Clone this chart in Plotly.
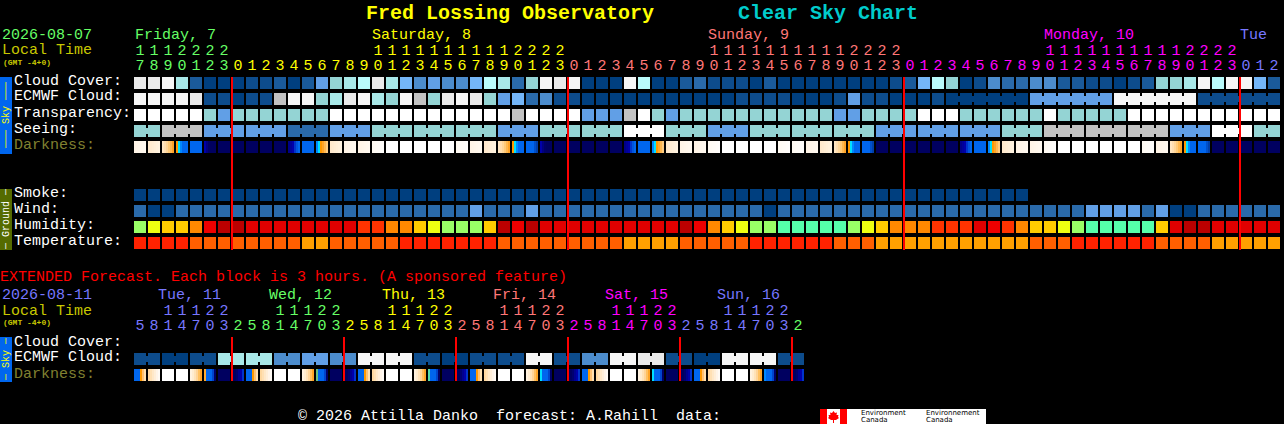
import plotly.graph_objects as go

# ---------- data ----------
HOURS_MAIN = [17,18,19,20,21,22,23,
              0,1,2,3,4,5,6,7,8,9,10,11,12,13,14,15,16,17,18,19,20,21,22,23,
              0,1,2,3,4,5,6,7,8,9,10,11,12,13,14,15,16,17,18,19,20,21,22,23,
              0,1,2,3,4,5,6,7,8,9,10,11,12,13,14,15,16,17,18,19,20,21,22,23,
              0,1,2]
HOURS_EXT = [5,8,11,14,17,20,23,
             2,5,8,11,14,17,20,23,
             2,5,8,11,14,17,20,23,
             2,5,8,11,14,17,20,23,
             2,5,8,11,14,17,20,23,
             2,5,8,11,14,17,20,23,
             2]
DAY_COUNTS_MAIN = [7, 24, 24, 24, 3]
DAY_COLORS_MAIN = ["#66ff66", "#ffff00", "#ff7777", "#ff00ff", "#7777ff"]
DAY_COUNTS_EXT = [7, 8, 8, 8, 8, 8, 1]
DAY_COLORS_EXT = ["#7777ff", "#66ff66", "#ffff00", "#ff7777", "#ff00ff", "#7777ff", "#66ff66"]
DAYS_MAIN = [("Friday, 7", 135, "#66ff66"), ("Saturday, 8", 372, "#ffff00"),
             ("Sunday, 9", 708, "#ff7777"), ("Monday, 10", 1044, "#ff00ff"), ("Tue", 1240, "#7777ff")]
DAYS_EXT = [("Tue, 11", 158, "#7777ff"), ("Wed, 12", 269, "#66ff66"), ("Thu, 13", 382, "#ffff00"),
            ("Fri, 14", 493, "#ff7777"), ("Sat, 15", 605, "#ff00ff"), ("Sun, 16", 717, "#7777ff")]

SKY_COLORS = ["#003f7f", "#0d4c8c", "#1a5a9a", "#2a6aaa", "#4c8ccc", "#619fe6", "#74b6f8",
              "#94d4d4", "#a8e8e8", "#b9fbfb", "#eaeaea", "#f6f6f6", "#c2c2c2", "#ffffff"]

cloud_cover = [10,10,11,8,2,0,0,0,1,1,2,0,2,5,7,8,9,10,8,6,4,
               5,4,4,6,9,8,3,7,11,10,11,0,0,0,11,9,0,0,2,3,1,1,1,0,2,0,0,0,0,0,0,
               0,0,1,2,6,9,7,0,1,4,3,3,4,4,2,2,1,1,0,1,2,7,7,8,11,9,11,11,6,2]
ecmwf_cloud = [11,11,11,11,10,1,1,0,1,1,12,11,11,7,8,10,11,8,7,11,12,
               7,10,11,10,7,5,6,3,4,1,1,0,0,0,0,0,0,0,0,0,0,0,1,1,1,1,0,0,0,1,5,
               1,1,0,0,0,1,0,0,0,0,0,0,5,5,5,5,5,5,11,11,11,11,11,11,1,1,1,1,1,1]
ecmwf_joined_blocks = [(58, 6), (64, 6), (70, 6), (76, 6)]
transparency = [13,13,13,13,13,7,5,7,7,7,7,7,7,7,13,13,13,13,13,13,13,
                13,13,13,13,13,13,12,13,13,13,13,5,5,5,12,13,7,5,7,7,7,7,7,7,7,7,7,7,7,5,5,
                7,7,7,7,13,13,13,7,7,7,7,7,7,13,7,7,7,7,7,13,13,13,13,13,13,13,13,13,13,13]
seeing_blocks = [(2,7),(3,12),(3,5),(3,5),(3,3),(3,5),(3,7),(3,7),(3,7),(3,5),(3,7),(3,7),
                 (3,13),(3,7),(3,5),(3,7),(3,7),(3,7),(3,5),(3,5),(3,5),(3,7),(3,12),(3,12),
                 (3,12),(3,5),(3,13),(2,7)]

DARK_KINDS = {
    "W":  ["#ffffff"] * 6,
    "F0": ["#fffaf2", "#fffbf5", "#fffcf7", "#fffcf8", "#fffdfa", "#fffefc"],
    "F1": ["#fff4e6", "#fff5e8", "#fff6ea", "#fff7ec", "#fff8ee", "#fff9f0"],
    "F2": ["#ffe9cc", "#ffebd0", "#ffedd4", "#ffefd8", "#fff1dc", "#fff3e0"],
    "G":  ["#ffe6c2", "#ffdeb0", "#ffd698", "#ffca78", "#ffb850", "#ffa428"],
    "SS": ["#ff9900", "#00e0ff", "#0088ff", "#0066ee", "#0066ee", "#0066ee"],
    "B":  ["#0066ee"] * 6,
    "BD": ["#0066ee", "#0066ee", "#0066ee", "#0066ee", "#0050cc", "#0040aa"],
    "DB": ["#0000aa", "#000080", "#000066", "#000060", "#000060", "#000060"],
    "N":  ["#000060"] * 6,
    "RB": ["#000088", "#000099", "#0000aa", "#0033cc", "#0055dd", "#0066ee"],
    "SR": ["#0088ff", "#00e0ff", "#ff9900", "#ffa428", "#ffb850", "#ffcc80"],
    "XD": ["#0066ee", "#0066ee", "#0066ee", "#ff9900", "#ffc070", "#ffe0b0"],
    "XC": ["#ffd8a0", "#ffe0b4", "#ffe8c8", "#ffeed8", "#fff4e8", "#fffaf4"],
    "XG": ["#fff2e0", "#ffecd0", "#ffe2b8", "#ffd498", "#ffc060", "#ffa428"],
    "XE0": ["#ffaa30", "#0066ee", "#0066ee", "#0066ee", "#0044cc", "#000066"],
    "XE1": ["#66c080", "#0066ee", "#0066ee", "#0066ee", "#0044cc", "#000066"],
    "XE2": ["#55ddaa", "#0066ee", "#0066ee", "#0066ee", "#0044cc", "#000066"],
    "XE3": ["#00e0ff", "#0066ee", "#0066ee", "#0066ee", "#0044cc", "#000066"],
    "XE4": ["#0088ff", "#0066ee", "#0066ee", "#0066ee", "#0044cc", "#000066"],
    "XR": ["#000060", "#000060", "#000070", "#000090", "#0000aa", "#0033cc"],
}
darkness = ["F1","F2","G","SS","B","DB","N","N","N","N","N","RB","B","SR","F2","F1","F1","F0","W","W","W",
            "W","W","F0","F1","F2","G","SS","BD","DB","N","N","N","N","N","RB","B","SR","F2","F1","F1","F0",
            "W","W","W","W","F0","F0","F1","F2","G","SS",
            "BD","N","N","N","N","N","N","RB","B","SR","F2","F1","F1","F0","W","W","W","W","W","W",
            "F0","F1","G","SS","BD","N","N","N","N","N"]

smoke = [0] * 64
wind = [3,0,0,3,3,3,3,3,3,3,3,3,3,3,3,3,3,3,3,3,3,
        3,3,3,5,3,3,3,5,3,3,3,3,3,3,3,3,3,3,3,3,3,3,3,3,0,3,3,3,3,3,3,
        3,3,3,3,3,3,3,3,3,3,3,3,3,3,3,3,5,5,5,5,3,5,0,0,3,3,3,3,3,3]

HUM = {"g": "#99ff66", "l": "#eeff11", "y": "#ffcc00", "o": "#ff8800", "a": "#ff3300",
       "R": "#ee0000", "r": "#e00000", "D": "#bb0000", "t": "#55ffaa"}
humidity = list("glyyoRDDrrrrrrrraaooy") + list("lgggyDRDrrrrrrrrrrDRoylggtttttg") + list("lyoooaaarRaoyylgtttttyrDDrrrrr")

TEMP = {"R": "#ff2200", "M": "#ff5f00", "O": "#ffa000"}
temperature = list("RRRRMMMMMMMMOOMMMMMRR") + list("RRRRRMMMMMMMMMOOOOMMMMMRRRRRRMM") + list("MOOOOOOOOOOOMMMRRRRRRMMMMOOOOO")

ext_ecmwf_blocks = [1,0,1,8,8,4,5,4,11,11,1,0,1,1,11,1,4,11,10,1,0,11,11,1]
ext_darkness = ["XD","XC","W","W","XG","XE0","N","XR",
                "XD","XC","W","W","XG","XE1","N","XR",
                "XD","XC","W","W","XG","XE2","N","XR",
                "XD","XC","W","W","XG","XE3","N","XR",
                "XD","XC","W","W","XG","XE3","N","XR",
                "XD","XC","W","W","XG","XE4","N","XR"]

MIDNIGHT_MAIN = [7, 31, 55, 79]
MIDNIGHT_EXT = [7, 15, 23, 31, 39, 47]

LABELS_MAIN = ["Cloud Cover:", "ECMWF Cloud:", "Transparency:", "Seeing:", "Darkness:"]
LABELS_GROUND = ["Smoke:", "Wind:", "Humidity:", "Temperature:"]
LABELS_EXT = ["Cloud Cover:", "ECMWF Cloud:", "Darkness:"]

# ---------- layout constants ----------
W, H = 1284, 424
PITCH = 14
FIRST_CENTRE = 140
CELL_W = 12 / PITCH
CELL_H = 12
NECK_H = 6
ROW_MAIN = [83, 99, 115, 131, 147]
ROW_GROUND = [195, 211, 227, 243]
ROW_EXT = [343, 359, 375]
BODY = "Liberation Mono"
PALE = "#c8c800"
RED = "#ff0000"


def col_of_px(px):
    return (px - FIRST_CENTRE) / PITCH


fig = go.Figure()


def bar(x, height, base, width, color):
    fig.add_trace(go.Bar(x=x, y=height, base=base, width=width, marker=dict(color=color, line=dict(width=0)),
                         hoverinfo="skip", showlegend=False))


def cell_row(values, row, colors=SKY_COLORS):
    n = len(values)
    bar(list(range(n)), [CELL_H] * n, [row - CELL_H / 2] * n, [CELL_W] * n, [colors[v] for v in values])


def joined(blocks, row):
    """blocks: (first column, length, colour index)"""
    xs, cs = [], []
    for first, length, c in blocks:
        for i in range(first, first + length - 1):
            xs.append(i + 0.5)
            cs.append(SKY_COLORS[c])
    bar(xs, [NECK_H] * len(xs), [row - NECK_H / 2] * len(xs), [2 / PITCH] * len(xs), cs)


def dark_row(kinds, row):
    xs, cs = [], []
    for i, k in enumerate(kinds):
        for j, c in enumerate(DARK_KINDS[k]):
            xs.append(i + (j - 2.5) * 2 / PITCH)
            cs.append(c)
    bar(xs, [CELL_H] * len(xs), [row - CELL_H / 2] * len(xs), [2 / PITCH] * len(xs), cs)


cell_row(cloud_cover, ROW_MAIN[0])
cell_row(ecmwf_cloud, ROW_MAIN[1])
joined([(a, b, ecmwf_cloud[a]) for a, b in ecmwf_joined_blocks], ROW_MAIN[1])
cell_row(transparency, ROW_MAIN[2])

seeing, see_blocks, pos = [], [], 0
for length, c in seeing_blocks:
    seeing += [c] * length
    see_blocks.append((pos, length, c))
    pos += length
cell_row(seeing, ROW_MAIN[3])
joined(see_blocks, ROW_MAIN[3])
dark_row(darkness, ROW_MAIN[4])

cell_row(smoke, ROW_GROUND[0])
cell_row(wind, ROW_GROUND[1])
bar(list(range(len(humidity))), [CELL_H] * len(humidity), [ROW_GROUND[2] - CELL_H / 2] * len(humidity),
    [CELL_W] * len(humidity), [HUM[k] for k in humidity])
bar(list(range(len(temperature))), [CELL_H] * len(temperature), [ROW_GROUND[3] - CELL_H / 2] * len(temperature),
    [CELL_W] * len(temperature), [TEMP[k] for k in temperature])

ext_cells = [c for c in ext_ecmwf_blocks for _ in range(2)]
cell_row(ext_cells, ROW_EXT[1])
joined([(2 * i, 2, c) for i, c in enumerate(ext_ecmwf_blocks)], ROW_EXT[1])
dark_row(ext_darkness, ROW_EXT[2])

# midnight markers, after all cells so they sit on top
LINE_X = -6 / PITCH
bar([c + LINE_X for c in MIDNIGHT_MAIN], [173] * len(MIDNIGHT_MAIN), [77] * len(MIDNIGHT_MAIN),
    [2 / PITCH] * len(MIDNIGHT_MAIN), RED)
bar([c + LINE_X for c in MIDNIGHT_EXT], [44] * len(MIDNIGHT_EXT), [337] * len(MIDNIGHT_EXT),
    [2 / PITCH] * len(MIDNIGHT_EXT), RED)


def spread(counts, colors):
    out = []
    for n, c in zip(counts, colors):
        out += [c] * n
    return out


def hour_text(hours, colors, y_tens, y_ones):
    cols = list(range(len(hours)))
    t = [(i, h // 10) for i, h in enumerate(hours) if h >= 10]
    fig.add_trace(go.Scatter(x=[i for i, _ in t], y=[y_tens] * len(t), mode="text",
                             text=[str(d) for _, d in t],
                             textfont=dict(family=BODY, size=15, color=[colors[i] for i, _ in t]),
                             hoverinfo="skip", showlegend=False, cliponaxis=False))
    fig.add_trace(go.Scatter(x=cols, y=[y_ones] * len(cols), mode="text",
                             text=[str(h % 10) for h in hours],
                             textfont=dict(family=BODY, size=15, color=colors),
                             hoverinfo="skip", showlegend=False, cliponaxis=False))


hour_text(HOURS_MAIN, spread(DAY_COUNTS_MAIN, DAY_COLORS_MAIN), 51, 66)
hour_text(HOURS_EXT, spread(DAY_COUNTS_EXT, DAY_COLORS_EXT), 311, 326)

# ---------- text ----------
ann = []


def label(text, x, y, color="#ffffff", size=15, family=BODY, bold=False, anchor="left"):
    ann.append(dict(text=("<b>%s</b>" % text) if bold else text, xref="paper", yref="paper",
                    x=x / W, y=1 - y / H, xanchor=anchor, yanchor="middle", showarrow=False, borderpad=0, borderwidth=0,
                    font=dict(family=family, size=size, color=color)))


def vlabel(text, x, y, color):
    ann.append(dict(text=text, xref="paper", yref="paper", x=x / W, y=1 - y / H, xanchor="center",
                    yanchor="middle", showarrow=False, textangle=-90, borderpad=0,
                    font=dict(family=BODY, size=10, color=color)))


label("Fred Lossing Observatory", 366, 13, "#ffff00", 20, bold=True)
label("Clear Sky Chart", 738, 13, "#00cccc", 20, bold=True)
label("2026-08-07", 2, 36, "#66ff66")
label("Local Time", 2, 51, PALE)
label("(GMT -4+0)", 3, 62, PALE, 8, bold=True)
for t, x, c in DAYS_MAIN:
    label(t, x, 36, c)
for t, y in zip(LABELS_MAIN, ROW_MAIN):
    label(t, 14, y - 2, "#808030" if t == "Darkness:" else "#ffffff")
for t, y, d in zip(LABELS_GROUND, ROW_GROUND, [1, 1, 2, 2]):
    label(t, 14, y - d)
label("EXTENDED Forecast. Each block is 3 hours. (A sponsored feature)", 0, 277, RED)
label("2026-08-11", 2, 295, "#7777ff")
label("Local Time", 2, 311, PALE)
label("(GMT -4+0)", 3, 322, PALE, 8, bold=True)
for t, x, c in DAYS_EXT:
    label(t, x, 295, c)
for t, y, d in zip(LABELS_EXT, ROW_EXT, [1, 2, 1]):
    label(t, 14, y - d, "#808030" if t == "Darkness:" else "#ffffff")
label("\u00a9 2026 Attilla Danko\u00a0\u00a0forecast: A.Rahill\u00a0\u00a0data:", 298, 416)

vlabel("\u2500\u2500\u2500 Sky \u2500\u2500\u2500", 6, 115, "#ffff00")
vlabel("\u2500 Ground \u2500", 6, 219, "#ffffff")
vlabel("\u2500 Sky \u2500", 6, 359, "#ffff00")

LOGO_FONT = "DejaVu Sans"
label("Environment", 861, 412.5, "#000000", 7, LOGO_FONT)
label("Canada", 861, 420, "#000000", 7, LOGO_FONT)
label("Environnement", 926, 412.5, "#000000", 7, LOGO_FONT)
label("Canada", 926, 420, "#000000", 7, LOGO_FONT)

# ---------- shapes ----------
shapes = []


def rect(x0, x1, y0, y1, color, layer="below"):
    shapes.append(dict(type="rect", xref="paper", yref="paper", x0=x0 / W, x1=x1 / W, y0=1 - y0 / H, y1=1 - y1 / H,
                       fillcolor=color, line=dict(width=0), layer=layer))


rect(0, 12, 77, 154, "#0066ee")
rect(0, 12, 189, 250, "#556b00")
rect(0, 12, 337, 382, "#0066ee")
rect(820, 986, 409, 424, "#ffffff")
rect(820, 827, 409, 424, RED)
rect(840, 847, 409, 424, RED)

LEAF = [(833.5, 411), (835, 413), (837, 412.5), (836.5, 415), (838.5, 415), (838, 417), (839, 418), (836, 420),
        (834, 420), (834, 423), (833, 423), (833, 420), (831, 420), (828, 418), (829, 417), (828.5, 415),
        (830.5, 415), (830, 412.5), (832, 413)]
path = "M " + " L ".join("%.5f,%.5f" % (x / W, 1 - y / H) for x, y in LEAF) + " Z"
shapes.append(dict(type="path", xref="paper", yref="paper", path=path, fillcolor=RED,
                   line=dict(width=0), layer="below"))

fig.update_layout(
    width=W, height=H, autosize=False, margin=dict(l=0, r=0, t=0, b=0, pad=0),
    paper_bgcolor="#000000", plot_bgcolor="rgba(0,0,0,0)", barmode="overlay", showlegend=False,
    xaxis=dict(range=[col_of_px(0), col_of_px(W)], visible=False, fixedrange=True),
    yaxis=dict(range=[H, 0], visible=False, fixedrange=True),
    shapes=shapes, annotations=ann, font=dict(family=BODY),
)

fig.write_html("out.html", config={"displayModeBar": False},
               post_script="document.body.style.margin='0';document.body.style.background='#000';"
                           "document.body.style.overflow='hidden';")
